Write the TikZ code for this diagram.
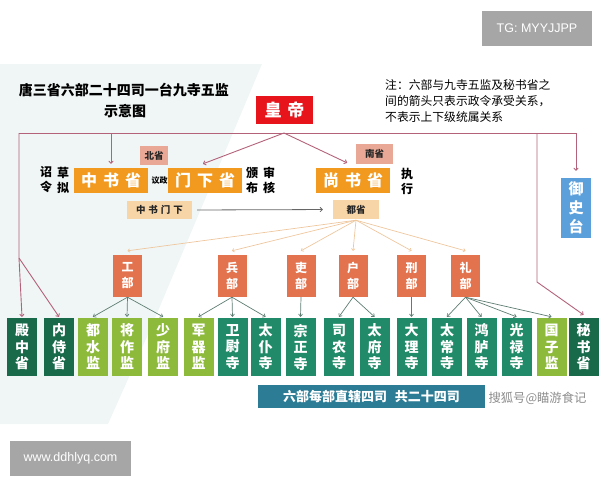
\documentclass[tikz,border=0pt]{standalone}
\usepackage{fontspec}
\newfontfamily\cjk{Noto Sans CJK SC}
\newfontfamily\lat{Liberation Sans}
\usetikzlibrary{arrows.meta}
\definecolor{hred}{HTML}{E8141C}
\definecolor{sorange}{HTML}{F19A1F}
\definecolor{spink}{HTML}{E9A795}
\definecolor{speach}{HTML}{F8D5A6}
\definecolor{dept}{HTML}{E2734E}
\definecolor{dgreen}{HTML}{19694B}
\definecolor{mgreen}{HTML}{218A68}
\definecolor{lgreen}{HTML}{8EBA3C}
\definecolor{yblue}{HTML}{5B9FDB}
\definecolor{banner}{HTML}{2C7C95}
\definecolor{framec}{HTML}{B3627A}
\definecolor{fanc}{HTML}{EEC79E}
\definecolor{subc}{HTML}{5E7D72}
\definecolor{wm}{HTML}{A6A6A6}
\definecolor{bgc}{HTML}{F0F6F5}
\tikzset{
  box/.style={inner sep=0pt, align=center, text=white},
  sheng/.style={box, fill=sorange, minimum width=74pt, minimum height=25pt, font=\cjk\bfseries\fontsize{16}{18}\selectfont},
  tag/.style={box, text=black!85, minimum height=19pt, font=\cjk\bfseries\fontsize{9.5}{11}\selectfont},
  deptbox/.style={box, fill=dept, minimum width=29pt, minimum height=42pt, font=\cjk\bfseries\fontsize{12}{16}\selectfont},
  bot/.style={box, minimum width=30pt, minimum height=58pt, font=\cjk\bfseries\fontsize{14}{16.5}\selectfont},
  vtext/.style={inner sep=0pt, align=center, font=\cjk\bfseries\fontsize{12}{15}\selectfont},
  frameline/.style={draw=framec, line width=0.9pt},
  tip/.style={-{To[length=3pt,width=5pt]}},
  fanline/.style={draw=fanc, line width=0.7pt, -{To[length=2.5pt,width=4pt]}},
  subline/.style={draw=subc, line width=0.7pt, -{To[length=3pt,width=4.5pt]}},
  wmbox/.style={inner sep=0pt, fill=wm, text=white, font=\lat\fontsize{12.5}{14}\selectfont}
}
\begin{document}
\begin{tikzpicture}[x=1pt,y=-1pt]
\useasboundingbox (0,0) rectangle (600,480);
% faint background shading
\fill[bgc] (0,64) -- (262,64) -- (150,330) -- (108,424) -- (0,424) -- cycle;

% watermarks
\node[wmbox, minimum width=110pt, minimum height=35pt] (tg) at (537,28.5) {TG: MYYJJPP};
\node[wmbox, minimum width=121pt, minimum height=35pt] (www) at (70.5,458.5) {www.ddhlyq.com};

% title and note
\node[inner sep=0pt, font=\cjk\bfseries\fontsize{14}{16}\selectfont] (title) at (124,90) {唐三省六部二十四司一台九寺五监};
\node[inner sep=0pt, font=\cjk\bfseries\fontsize{14}{16}\selectfont] (title2) at (125,111) {示意图};
\node[inner sep=0pt, anchor=west, align=left, font=\cjk\fontsize{11.8}{16}\selectfont] (note) at (385,101)
  {注：六部与九寺五监及秘书省之\\间的箭头只表示政令承受关系，\\不表示上下级统属关系};

% emperor
\node[box, fill=hred, minimum width=57pt, minimum height=28pt, font=\cjk\bfseries\fontsize{17}{19}\selectfont] (hd) at (284.5,110) {皇\hspace{6pt}帝};

% three departments
\node[sheng] (zsh) at (111,180.5) {中\hspace{6pt}书\hspace{6pt}省};
\node[sheng] (mxs) at (205,180.5) {门\hspace{6pt}下\hspace{6pt}省};
\node[sheng] (ssh) at (353,180.5) {尚\hspace{6pt}书\hspace{6pt}省};
\node[tag, fill=spink, minimum width=28pt] (bs) at (154,155.5) {北省};
\node[tag, fill=spink, minimum width=37pt, minimum height=20pt] (ns) at (374.5,154) {南省};
\node[tag, fill=speach, minimum width=65pt, minimum height=18pt] (zsmx) at (159.5,210) {中\hspace{3pt}书\hspace{3pt}门\hspace{3pt}下};
\node[tag, fill=speach, minimum width=46pt] (ds) at (356,209.5) {都省};
\node[inner sep=0pt, font=\cjk\bfseries\fontsize{8}{9}\selectfont] (yz) at (159.5,181) {议政};
\node[vtext] (zl) at (46,180) {诏\\令};
\node[vtext] (cn) at (63,180) {草\\拟};
\node[vtext] (bb) at (252,180) {颁\\布};
\node[vtext] (sh) at (269,180) {审\\核};
\node[vtext] (zx) at (407,181) {执\\行};

% censorate
\node[box, fill=yblue, minimum width=30pt, minimum height=60pt, font=\cjk\bfseries\fontsize{15}{19}\selectfont] (ysd) at (576,208) {御\\史\\台};

% six ministries
\node[deptbox] (gb) at (127.5,276) {工\\部};
\node[deptbox] (bb2) at (232,276) {兵\\部};
\node[deptbox] (lb) at (301,276) {吏\\部};
\node[deptbox] (hb) at (353,276) {户\\部};
\node[deptbox] (xb) at (411.5,276) {刑\\部};
\node[deptbox] (lib) at (465.5,276) {礼\\部};

% bottom row
\node[bot, fill=dgreen] (dz) at (22,347) {殿\\中\\省};
\node[bot, fill=dgreen] (nsh) at (59,347) {内\\侍\\省};
\node[bot, fill=lgreen] (dsj) at (93,347) {都\\水\\监};
\node[bot, fill=lgreen] (jzj) at (127,347) {将\\作\\监};
\node[bot, fill=lgreen] (sfj) at (163,347) {少\\府\\监};
\node[bot, fill=lgreen] (jqj) at (198.5,347) {军\\器\\监};
\node[bot, fill=mgreen] (wws) at (232.5,347) {卫\\尉\\寺};
\node[bot, fill=mgreen] (tps) at (265.5,347) {太\\仆\\寺};
\node[bot, fill=mgreen] (zzs) at (300.5,347) {宗\\正\\寺};
\node[bot, fill=mgreen] (sns) at (339,347) {司\\农\\寺};
\node[bot, fill=mgreen] (tfs) at (374.5,347) {太\\府\\寺};
\node[bot, fill=mgreen] (dls) at (411.5,347) {大\\理\\寺};
\node[bot, fill=mgreen] (tcs) at (447,347) {太\\常\\寺};
\node[bot, fill=mgreen] (hls) at (481.5,347) {鸿\\胪\\寺};
\node[bot, fill=mgreen] (gls) at (516.5,347) {光\\禄\\寺};
\node[bot, fill=lgreen] (gzj) at (551.5,347) {国\\子\\监};
\node[bot, fill=dgreen] (msh) at (583.5,347) {秘\\书\\省};

% banner and source
\node[box, fill=banner, minimum width=227pt, minimum height=23pt, font=\cjk\bfseries\fontsize{13}{15}\selectfont] (bn) at (371.5,396.5) {六部每部直辖四司\hspace{8pt}共二十四司};
\node[inner sep=0pt, text=black!45, font=\cjk\fontsize{12.3}{14}\selectfont] (src) at (537.5,398) {搜狐号@瞄游食记};

% frame connectors
\coordinate (apex) at (284,133);
\coordinate (fl) at (19,133);
\coordinate (fr) at (576,133);
\coordinate (lsplit) at (19,258);
\coordinate (r2) at (537,133);
\coordinate (r2b) at (537,282);
\draw[frameline] (fl) -- (fr);
\draw[frameline, tip] (fl) -- (lsplit) -- ([yshift=1pt]dz.north);
\draw[frameline, tip] (lsplit) -- ([yshift=1pt]nsh.north);
\draw[frameline, tip] (r2) -- (r2b) -- ([yshift=3pt]msh.north);
\draw[frameline, tip, shorten >=7pt] (fr) -- (ysd.north);
\draw[frameline, tip, shorten >=4pt] (zsh.north |- fl) -- (zsh.north);
\draw[frameline, tip] (apex) -- ([xshift=-2pt,yshift=4pt]mxs.north);
\draw[frameline, tip] (apex) -- ([xshift=-6pt,yshift=5pt]ssh.north);

% 中书门下 -> 都省
\draw[draw=black!60, line width=0.8pt, tip, shorten <=5pt, shorten >=10pt] (zsmx.east) -- (ds.west);

% fan from 都省
\foreach \d in {gb,bb2,lb,hb,xb,lib}
  \draw[fanline] ([yshift=-1pt]ds.south) -- ([yshift=4pt]\d.north);

% ministries to bureaus
\foreach \s/\t in {gb/dsj,gb/jzj,gb/sfj,bb2/jqj,bb2/wws,bb2/tps,lb/zzs,hb/sns,hb/tfs,xb/dls,lib/tcs,lib/hls,lib/gls,lib/gzj}
  \draw[subline] (\s.south) -- ([yshift=1pt]\t.north);
\end{tikzpicture}
\end{document}
